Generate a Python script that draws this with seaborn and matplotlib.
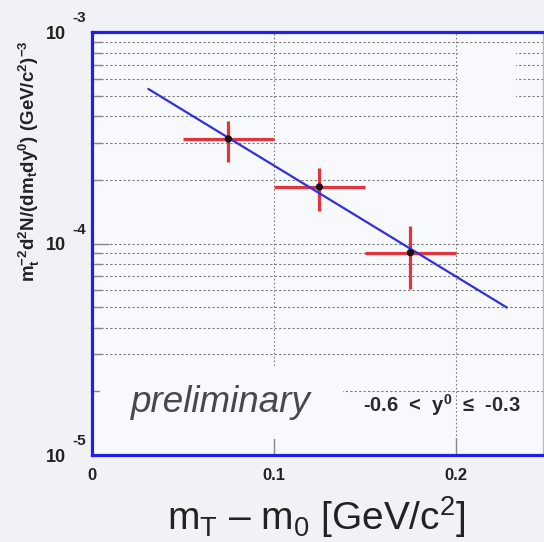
import math
import matplotlib
matplotlib.use("Agg")
import matplotlib.pyplot as plt
from matplotlib.patches import Rectangle
from matplotlib.ticker import FixedLocator, LogLocator, FixedFormatter, NullFormatter
import seaborn as sns

# ---------------------------------------------------------
# data
# ---------------------------------------------------------
mt_m0 = [0.075, 0.125, 0.175]
yield_val = [3.12e-4, 1.85e-4, 9.05e-5]
x_lo = [0.050, 0.100, 0.150]
x_hi = [0.100, 0.150, 0.200]
y_lo = [2.44e-4, 1.43e-4, 6.07e-5]
y_hi = [3.80e-4, 2.28e-4, 1.21e-4]

fit_x = [0.031, 0.228]
fit_y = [5.38e-4, 4.98e-5]

x_ticks = [0.0, 0.1, 0.2]
x_tick_labels = ["0", "0.1", "0.2"]
y_ticks = [1e-5, 1e-4, 1e-3]

# ---------------------------------------------------------
# style
# ---------------------------------------------------------
sns.set_theme(style="ticks")
plt.rcParams["font.family"] = ["Liberation Sans", "DejaVu Sans"]
plt.rcParams["mathtext.fontset"] = "custom"
plt.rcParams["mathtext.rm"] = "Liberation Sans"
plt.rcParams["mathtext.it"] = "Liberation Sans:italic"
plt.rcParams["mathtext.bf"] = "Liberation Sans:bold"

FIG_BG = "#f1f2f6"
AX_BG = "#f8f9fc"
FRAME = "#2020e8"
ERR_RED = "#e5333b"
FIT_BLUE = "#3030e0"
GRID = "#7a7a7a"
TEXT = "#222222"

fig = plt.figure(figsize=(5.44, 5.42), dpi=100)
fig.patch.set_facecolor(FIG_BG)
ax = fig.add_axes([0.169, 0.1605, 0.829, 0.7804])
ax.set_facecolor(AX_BG)

# error bars
xerr = [[m - lo for m, lo in zip(mt_m0, x_lo)], [hi - m for m, hi in zip(mt_m0, x_hi)]]
yerr = [[v - lo for v, lo in zip(yield_val, y_lo)], [hi - v for v, hi in zip(yield_val, y_hi)]]
ax.errorbar(mt_m0, yield_val, xerr=xerr, yerr=yerr, fmt="none",
            ecolor=ERR_RED, elinewidth=2.3, capsize=0, zorder=3)

# fit line
sns.lineplot(x=fit_x, y=fit_y, color=FIT_BLUE, linewidth=1.6, ax=ax, zorder=4)

# data points
sns.scatterplot(x=mt_m0, y=yield_val, color="#151515", s=28, edgecolor="none",
                ax=ax, zorder=5)

ax.set_yscale("log")
ax.set_xlim(0, 0.2478)
ax.set_ylim(1e-5, 1e-3)

# ticks
ax.xaxis.set_major_locator(FixedLocator(x_ticks))
ax.set_xticklabels(x_tick_labels, fontweight="bold", fontsize=12, color=TEXT)
ax.yaxis.set_major_locator(FixedLocator(y_ticks))
ax.yaxis.set_major_formatter(FixedFormatter(["10"] * len(y_ticks)))
ax.yaxis.set_minor_locator(LogLocator(base=10, subs=range(2, 10)))
ax.yaxis.set_minor_formatter(NullFormatter())
for lab in ax.get_yticklabels():
    lab.set_fontweight("bold")
ax.tick_params(axis="y", which="major", labelsize=13, labelcolor=TEXT,
               direction="in", length=12, width=1, color="#888888", pad=18.5)
ax.tick_params(axis="y", which="minor", direction="in", length=7, width=1, color="#888888")
ax.tick_params(axis="x", which="major", direction="in", length=12, width=1,
               color="#888888", pad=9)

# exponents of the y tick labels, ROOT style (raised above "10")
for t in y_ticks:
    ax.text(-0.029, t * 10 ** 0.066, str(round(math.log10(t))),
            transform=ax.get_yaxis_transform(), fontsize=11, fontweight="bold",
            color=TEXT, ha="center", va="center", clip_on=False)

# grid
ax.set_axisbelow(True)
ax.yaxis.grid(True, which="both", color=GRID, linestyle=(0, (2, 2)), linewidth=0.8)
ax.xaxis.grid(True, which="major", color=GRID, linestyle=(0, (1.5, 2)), linewidth=0.8)

# blank boxes (text / legend areas hide the grid)
ax.add_patch(Rectangle((0.0044, 1.19e-5), 0.1336, 2.63e-5 - 1.19e-5,
                       facecolor=AX_BG, edgecolor="none", zorder=1))
ax.add_patch(Rectangle((0.201, 4.88e-4), 0.032, 8.22e-4 - 4.88e-4,
                       facecolor=AX_BG, edgecolor="none", zorder=1))

# frame
for side in ["left", "top", "bottom"]:
    ax.spines[side].set_color(FRAME)
    ax.spines[side].set_linewidth(2.3)
ax.spines["right"].set_color("#b4b4f0")
ax.spines["right"].set_linewidth(1.0)

# texts
ax.text(0.0215, 1.6e-5, "preliminary", fontsize=26.5, style="italic",
        color="#48484c", va="baseline", ha="left")
ax.text(0.149, 1.6e-5, r"-0.6  <  $\mathbf{y^{0}}$  ≤  -0.3",
        fontsize=14.5, fontweight="bold", color="#2a2a2a", va="baseline", ha="left")

fig.text(0.055, 1 - 161 / 542,
         r"$\mathbf{m_{t}^{-2}d^{2}N/(dm_{t}dy^{0})\ (GeV/c^{2})^{-3}}$",
         rotation=90, fontsize=13.5, color=TEXT, ha="center", va="center")
fig.text(316 / 544, 1 - 530 / 542,
         r"$\mathrm{m_{T}}$ – $\mathrm{m_{0}}$ [GeV/c$^{2}$]",
         fontsize=28, color=TEXT, ha="center", va="baseline")

fig.savefig("out.png", dpi=100, facecolor=fig.get_facecolor())
